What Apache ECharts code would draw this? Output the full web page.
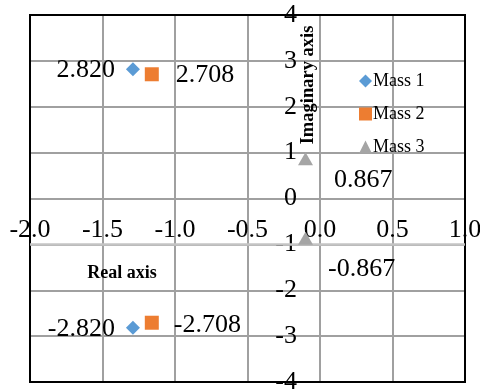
<!DOCTYPE html>
<html>
<head>
<meta charset="utf-8">
<script src="https://cdn.jsdelivr.net/npm/echarts@6/dist/echarts.min.js"></script>
<style>
  html, body { margin: 0; padding: 0; background: #fff; }
  #chart { width: 480px; height: 392px; }
</style>
</head>
<body>
<div id="chart"></div>
<script>
// Roots of the three-mass system, plotted on the complex plane
const seriesNames = ['Mass 1', 'Mass 2', 'Mass 3'];
const realParts = [-1.29, -1.16, -0.10];
const imagParts = [2.820, 2.708, 0.867];
const seriesColors = ['#5B9BD5', '#ED7D31', '#A5A5A5'];
const seriesSymbols = ['diamond', 'rect', 'triangle'];
const seriesSymbolSizes = [[14, 14], [14, 14], [15, 13]];

const realTicks = { min: -2, max: 1, interval: 0.5 };
const imagTicks = { min: -4, max: 4, interval: 1 };

const FONT = '"Liberation Serif", "Times New Roman", serif';
const W = 480, H = 392;
const gridBox = { left: 30, right: 15, top: 15, bottom: 10 };

// axes cross at the origin: shift each axis from its edge to the zero line
const plotW = W - gridBox.left - gridBox.right;
const plotH = H - gridBox.top - gridBox.bottom;
const zeroFromLeft = plotW * (0 - realTicks.min) / (realTicks.max - realTicks.min);
const zeroFromBottom = plotH * (0 - imagTicks.min) / (imagTicks.max - imagTicks.min);

// label placement for the upper (+) and lower (−) root of each pair
const labelPlacement = [
  [{ position: 'left', distance: 11, offset: [0, 1] }, { position: 'left', distance: 11, offset: [0, 1] }],
  [{ position: 'right', distance: 17, offset: [0, 1] }, { position: 'right', distance: 15, offset: [0, 2] }],
  [{ position: 'right', distance: 21, offset: [0, 21] }, { position: 'right', distance: 15, offset: [0, 31] }]
];

const series = seriesNames.map((name, i) => ({
  name,
  type: 'scatter',
  symbol: seriesSymbols[i],
  symbolSize: seriesSymbolSizes[i],
  itemStyle: { color: seriesColors[i], opacity: 1 },
  data: [
    { value: [realParts[i], imagParts[i]], label: labelPlacement[i][0] },
    { value: [realParts[i], -imagParts[i]], label: labelPlacement[i][1] }
  ],
  label: {
    show: true,
    color: '#000',
    fontFamily: FONT,
    fontSize: 26,
    formatter: p => p.value[1].toFixed(3)
  },
  emphasis: { disabled: true },
  z: 5
}));

// light axis rule along the −1 gridline
series[0].markLine = {
  silent: true,
  symbol: 'none',
  label: { show: false },
  lineStyle: { color: '#c4c4c4', width: 2.5, type: 'solid' },
  data: [{ yAxis: -1 }],
  z: 2
};

const gridLine = { show: true, lineStyle: { color: '#a0a0a0', width: 2 } };

const chart = echarts.init(document.getElementById('chart'), null, { renderer: 'canvas' });
chart.setOption({
  animation: false,
  backgroundColor: '#fff',
  grid: {
    left: gridBox.left, right: gridBox.right, top: gridBox.top, bottom: gridBox.bottom,
    show: true,
    borderColor: '#000',
    borderWidth: 2,
    backgroundColor: 'transparent',
    containLabel: false,
    outerBoundsMode: 'none',
    z: 1
  },
  legend: {
    orient: 'vertical',
    left: 359,
    top: 72,
    padding: 0,
    itemWidth: 13,
    itemHeight: 13,
    itemGap: 15,
    textStyle: { fontFamily: FONT, fontSize: 18, color: '#000', padding: [0, 0, 0, -4] },
    data: seriesNames
  },
  xAxis: {
    type: 'value',
    position: 'bottom',
    offset: -zeroFromBottom,
    min: realTicks.min,
    max: realTicks.max,
    interval: realTicks.interval,
    axisLine: { show: false, onZero: false },
    axisTick: { show: false },
    axisLabel: {
      margin: 19,
      color: '#000',
      fontFamily: FONT,
      fontSize: 26,
      showMinLabel: true,
      showMaxLabel: true,
      formatter: v => v.toFixed(1)
    },
    splitLine: gridLine,
    z: 0
  },
  yAxis: {
    type: 'value',
    position: 'left',
    offset: -zeroFromLeft,
    min: imagTicks.min,
    max: imagTicks.max,
    interval: imagTicks.interval,
    axisLine: { show: false, onZero: false },
    axisTick: { show: false },
    axisLabel: {
      margin: 23,
      color: '#000',
      fontFamily: FONT,
      fontSize: 26,
      showMinLabel: true,
      showMaxLabel: true
    },
    splitLine: gridLine,
    z: 0
  },
  graphic: [
    {
      type: 'text',
      x: 308, y: 85,
      rotation: Math.PI / 2,
      style: {
        text: 'Imaginary axis',
        font: 'bold 18.5px ' + FONT,
        fill: '#000',
        align: 'center',
        verticalAlign: 'middle'
      },
      z: 10
    },
    {
      type: 'text',
      x: 122, y: 273,
      style: {
        text: 'Real axis',
        font: 'bold 18px ' + FONT,
        fill: '#000',
        align: 'center',
        verticalAlign: 'middle'
      },
      z: 10
    }
  ],
  series
});
</script>
</body>
</html>
